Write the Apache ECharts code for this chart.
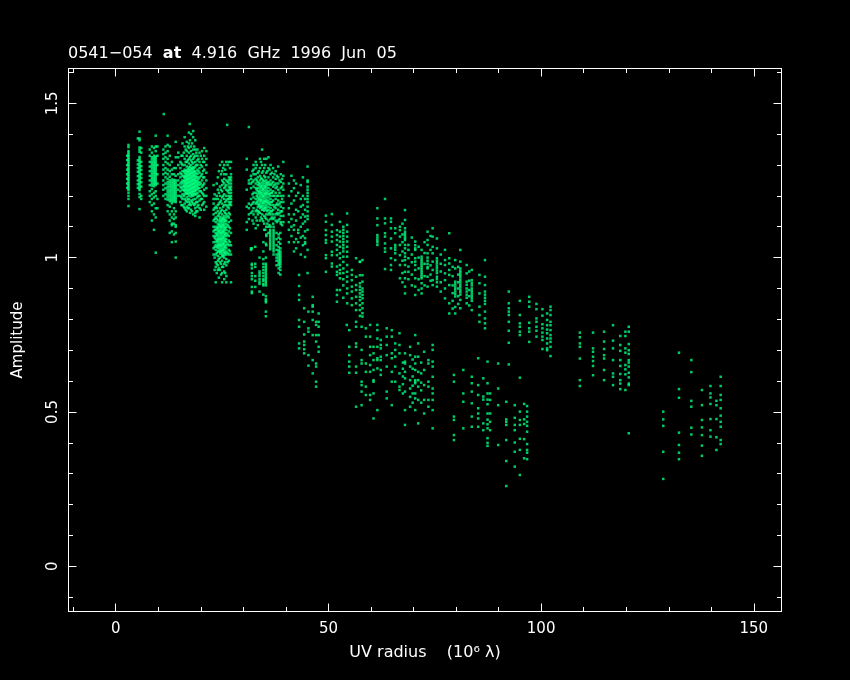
<!DOCTYPE html>
<html><head><meta charset="utf-8">
<style>html,body{margin:0;padding:0;background:#000}#c{width:850px;height:680px}</style>
<script src="https://cdn.jsdelivr.net/npm/echarts@6/dist/echarts.min.js"></script>
</head><body><div id="c"></div>
<script>
const titleText = '0541\u2212054  {b|at}  4.916  GHz  1996  Jun  05';
const xName = 'UV radius    (10\u2076 \u03bb)';
const yName = 'Amplitude';
const xMajor = [0, 50, 100, 150];
const xMinor = [-10, 10, 20, 30, 40, 60, 70, 80, 90, 110, 120, 130, 140];
const yMajor = [0, 0.5, 1, 1.5];
const yMinor = [-0.1, 0.1, 0.2, 0.3, 0.4, 0.6, 0.7, 0.8, 0.9, 1.1, 1.2, 1.3, 1.4, 1.6];

// each row: UV radius, then the amplitudes read in that vertical track
const strays = [[11.3,1.465],[17.4,1.433],[26.2,1.43],[31.3,1.423]];
const clusterA = [
 [3.0,1.365,1.358,1.345,1.34,1.334,1.329,1.323,1.318,1.312,1.307,1.301,1.296,1.29,1.285,1.279,1.274,1.268,1.263,1.257,1.252,1.246,1.241,1.235,1.23,1.224,1.219,1.21,1.2,1.19,1.167],
 [2.7,1.33,1.316,1.3,1.285,1.27,1.255,1.24,1.226]];
const clusterB = [
 [5.6,1.408,1.386,1.38,1.357,1.35,1.343,1.326,1.32,1.314,1.308,1.302,1.296,1.29,1.284,1.278,1.272,1.266,1.26,1.254,1.248,1.242,1.236,1.23,1.224,1.219,1.206,1.196,1.157],
 [5.2,1.386,1.315,1.302,1.29,1.278,1.264,1.25,1.238,1.226],
 [6.0,1.355,1.34,1.31,1.296,1.284,1.27,1.258,1.244,1.23,1.2,1.19]];
const clusterC = [
 [8.0,1.35,1.33,1.31,1.295,1.28,1.265,1.25,1.235,1.215,1.2,1.18],
 [8.5,1.36,1.34,1.325,1.318,1.31,1.303,1.296,1.289,1.282,1.275,1.268,1.261,1.254,1.247,1.24,1.233,1.222,1.205,1.19,1.17,1.15,1.12],
 [9.0,1.355,1.33,1.322,1.315,1.308,1.301,1.294,1.287,1.28,1.273,1.266,1.259,1.252,1.245,1.238,1.231,1.21,1.195,1.175,1.14,1.09],
 [9.4,1.395,1.36,1.345,1.327,1.32,1.312,1.305,1.298,1.291,1.284,1.277,1.27,1.263,1.256,1.249,1.242,1.235,1.215,1.2,1.16,1.13,1.016],
 [9.8,1.36,1.33,1.3,1.27,1.24,1.19,1.16]];
const clusterD = [
 [11.2,1.35,1.335,1.32,1.3,1.285,1.27,1.25,1.235,1.22,1.2],
 [11.7,1.36,1.34,1.325,1.31,1.29,1.275,1.26,1.24,1.225,1.205,1.19],
 [12.2,1.395,1.365,1.345,1.32,1.305,1.285,1.27,1.255,1.245,1.237,1.228,1.22,1.212,1.204,1.196,1.188,1.17,1.15],
 [12.7,1.36,1.33,1.3,1.28,1.262,1.25,1.243,1.235,1.228,1.22,1.213,1.205,1.198,1.19,1.183,1.165,1.14,1.12,1.08],
 [13.2,1.31,1.285,1.27,1.253,1.246,1.239,1.232,1.225,1.218,1.211,1.204,1.197,1.19,1.183,1.176,1.15,1.13,1.11,1.105,1.085,1.05],
 [13.7,1.29,1.27,1.252,1.245,1.238,1.231,1.224,1.217,1.21,1.203,1.196,1.189,1.182,1.16,1.14,1.125,1.11,1.075],
 [14.1,1.375,1.325,1.29,1.265,1.25,1.243,1.236,1.229,1.222,1.215,1.208,1.201,1.194,1.187,1.18,1.15,1.13,1.105,1.1,1.08,1.052,1.0]];
const clusterE = [
 [14.7,1.34,1.325,1.3,1.27,1.25,1.235,1.22,1.2],
 [15.2,1.31,1.29,1.275,1.26,1.24,1.23,1.215,1.2,1.18],
 [15.7,1.37,1.33,1.3,1.28,1.265,1.25,1.24,1.23,1.22,1.205,1.19,1.17],
 [16.2,1.39,1.36,1.32,1.3,1.285,1.275,1.265,1.258,1.25,1.243,1.236,1.229,1.222,1.215,1.205,1.19,1.175,1.16],
 [16.7,1.375,1.345,1.33,1.31,1.295,1.283,1.276,1.269,1.262,1.255,1.248,1.241,1.234,1.227,1.22,1.213,1.206,1.195,1.18,1.165,1.15],
 [17.2,1.405,1.37,1.355,1.34,1.32,1.305,1.292,1.285,1.278,1.271,1.264,1.257,1.25,1.243,1.236,1.229,1.222,1.215,1.208,1.2,1.19,1.18,1.17,1.16],
 [17.7,1.4,1.36,1.345,1.33,1.315,1.3,1.29,1.283,1.276,1.269,1.262,1.255,1.248,1.241,1.234,1.227,1.22,1.213,1.206,1.198,1.185,1.17,1.155],
 [18.2,1.41,1.39,1.35,1.335,1.32,1.305,1.293,1.286,1.279,1.272,1.265,1.258,1.251,1.244,1.237,1.23,1.223,1.216,1.209,1.2,1.188,1.175,1.14],
 [18.7,1.38,1.35,1.33,1.31,1.295,1.28,1.27,1.263,1.256,1.249,1.242,1.235,1.228,1.221,1.214,1.205,1.19,1.175,1.16,1.145,1.135],
 [19.2,1.35,1.33,1.315,1.3,1.285,1.27,1.26,1.25,1.243,1.236,1.229,1.222,1.21,1.195,1.18,1.165,1.15],
 [19.7,1.34,1.31,1.29,1.275,1.26,1.245,1.235,1.225,1.215,1.2,1.185,1.16,1.13],
 [20.3,1.345,1.32,1.295,1.27,1.25,1.23,1.21,1.19,1.17],
 [20.8,1.355,1.33,1.31,1.285,1.26,1.24,1.22,1.2,1.18,1.155],
 [21.3,1.345,1.32,1.3,1.275,1.25,1.225,1.2,1.165]];
const clusterE2 = [
 [15.45,1.33,1.305,1.27,1.245,1.225,1.195,1.17],
 [16.0,1.34,1.28,1.262,1.247,1.232,1.218,1.2,1.165],
 [16.45,1.35,1.31,1.28,1.27,1.26,1.25,1.24,1.23,1.22,1.21,1.185,1.155],
 [16.95,1.36,1.315,1.287,1.278,1.266,1.254,1.243,1.231,1.218,1.207,1.188,1.16],
 [17.45,1.38,1.325,1.295,1.282,1.27,1.258,1.246,1.234,1.222,1.21,1.175,1.145],
 [17.95,1.37,1.31,1.288,1.275,1.263,1.25,1.238,1.226,1.214,1.203,1.18,1.15],
 [18.45,1.36,1.325,1.29,1.278,1.266,1.253,1.241,1.228,1.216,1.205,1.17],
 [18.95,1.34,1.3,1.275,1.26,1.247,1.233,1.22,1.205,1.18,1.15],
 [19.45,1.32,1.28,1.255,1.24,1.225,1.2,1.17],
 [20.0,1.33,1.3,1.265,1.24,1.215,1.19,1.155],
 [20.55,1.31,1.28,1.26,1.235,1.205,1.175]];
const clusterF = [
 [23.0,1.235,1.19,1.175,1.155,1.14,1.12,1.1,1.085,1.07,1.05,1.03,1.01],
 [23.5,1.19,1.165,1.145,1.13,1.115,1.1,1.09,1.08,1.07,1.06,1.05,1.04,1.025,1.01,0.985,0.97,0.92],
 [24.0,1.26,1.22,1.19,1.17,1.15,1.135,1.12,1.11,1.1,1.093,1.086,1.079,1.072,1.065,1.058,1.051,1.044,1.037,1.03,1.02,1.005,0.99,0.975,0.96],
 [24.5,1.3,1.23,1.2,1.18,1.16,1.145,1.132,1.125,1.118,1.111,1.104,1.097,1.09,1.083,1.076,1.069,1.062,1.055,1.048,1.041,1.034,1.027,1.02,1.013,1.0,0.985,0.96],
 [25.0,1.31,1.28,1.25,1.235,1.215,1.195,1.175,1.155,1.14,1.13,1.123,1.116,1.109,1.102,1.095,1.088,1.081,1.074,1.067,1.06,1.053,1.046,1.039,1.032,1.025,1.018,1.011,1.004,0.99,0.97,0.95,0.92],
 [25.5,1.3,1.27,1.255,1.24,1.225,1.205,1.19,1.17,1.15,1.135,1.128,1.121,1.114,1.107,1.1,1.093,1.086,1.079,1.072,1.065,1.058,1.051,1.044,1.037,1.03,1.023,1.016,1.009,1.0,0.98,0.955,0.93],
 [26.0,1.31,1.27,1.25,1.235,1.22,1.2,1.185,1.17,1.155,1.14,1.13,1.12,1.11,1.1,1.09,1.08,1.07,1.06,1.05,1.04,1.03,1.02,1.01,0.995,0.975,0.94,0.92],
 [26.6,1.31,1.26,1.25,1.24,1.23,1.22,1.21,1.2,1.19,1.18,1.17,1.16,1.145,1.13,1.115,1.1,1.085,1.07,1.055,1.04,1.025,1.01,0.99],
 [27.1,1.31,1.27,1.26,1.25,1.24,1.23,1.22,1.21,1.2,1.19,1.18,1.17,1.12,1.08,1.04,1.01,0.92]];
const clusterF2 = [
 [23.25,1.205,1.16,1.125,1.09,1.065,1.035,1.0,0.96],
 [23.75,1.24,1.2,1.16,1.125,1.095,1.075,1.055,1.035,1.015,0.98,0.95],
 [24.25,1.28,1.21,1.175,1.14,1.105,1.085,1.06,1.04,1.02,0.995,0.965,0.935],
 [24.75,1.27,1.22,1.185,1.15,1.12,1.1,1.08,1.06,1.04,1.02,0.98,0.945],
 [25.25,1.29,1.245,1.2,1.165,1.125,1.105,1.085,1.065,1.045,1.025,1.005,0.97],
 [25.75,1.285,1.23,1.18,1.145,1.12,1.095,1.075,1.055,1.035,1.015,0.985,0.95],
 [26.3,1.3,1.245,1.215,1.19,1.165,1.135,1.105,1.075,1.045,1.015,0.985],
 [26.85,1.29,1.255,1.225,1.195,1.175,1.14,1.095,1.05,1.02]];
const clusterG = [
 [30.8,1.32,1.285,1.22,1.165,1.115,1.09],
 [31.3,1.25,1.24,1.175,1.16,1.14,1.125],
 [31.8,1.265,1.255,1.24,1.225,1.19,1.17,1.145,1.03,1.025],
 [32.4,1.3,1.285,1.27,1.25,1.23,1.21,1.195,1.18,1.16,1.14,1.11],
 [32.9,1.31,1.29,1.27,1.255,1.24,1.225,1.21,1.19,1.175,1.15,1.13,1.095],
 [33.4,1.275,1.26,1.245,1.235,1.225,1.215,1.205,1.195,1.185,1.175,1.165,1.15,1.14,1.105],
 [33.9,1.32,1.29,1.265,1.25,1.24,1.232,1.224,1.216,1.208,1.2,1.192,1.184,1.176,1.168,1.16,1.145,1.12],
 [34.4,1.35,1.3,1.275,1.255,1.243,1.235,1.227,1.219,1.211,1.203,1.195,1.187,1.179,1.171,1.163,1.155,1.14,1.125],
 [34.9,1.32,1.29,1.265,1.248,1.24,1.232,1.224,1.216,1.208,1.2,1.192,1.184,1.176,1.168,1.16,1.152,1.135,1.11,1.09],
 [35.4,1.32,1.275,1.25,1.243,1.235,1.227,1.219,1.211,1.203,1.195,1.187,1.179,1.171,1.163,1.155,1.14,1.125,1.1,1.075,1.07,1.04],
 [35.9,1.325,1.29,1.26,1.245,1.235,1.225,1.215,1.205,1.195,1.185,1.175,1.165,1.155,1.14,1.12,1.1,1.08],
 [36.4,1.3,1.27,1.25,1.235,1.22,1.21,1.2,1.19,1.18,1.17,1.16,1.15,1.14,1.125,1.1],
 [37.0,1.29,1.26,1.245,1.23,1.215,1.2,1.185,1.17,1.155,1.14,1.125,1.11],
 [37.6,1.28,1.255,1.24,1.225,1.21,1.19,1.17,1.16,1.14,1.12],
 [38.2,1.295,1.26,1.24,1.22,1.2,1.185,1.17,1.155,1.14,1.12],
 [38.8,1.27,1.245,1.225,1.2,1.18,1.165,1.15,1.135,1.115,1.11],
 [39.4,1.31,1.265,1.24,1.22,1.2,1.18,1.16,1.135,1.115]];
const clusterG2 = [
 [32.15,1.28,1.245,1.205,1.175,1.15,1.12],
 [33.15,1.3,1.25,1.22,1.2,1.18,1.155,1.12],
 [33.65,1.28,1.24,1.212,1.19,1.17,1.148],
 [34.15,1.31,1.258,1.23,1.208,1.186,1.165,1.13],
 [34.65,1.28,1.25,1.222,1.2,1.178,1.156,1.118],
 [35.15,1.3,1.26,1.23,1.207,1.183,1.16,1.13,1.09],
 [35.65,1.28,1.24,1.21,1.18,1.15,1.11],
 [36.15,1.285,1.24,1.205,1.175,1.145,1.105],
 [36.7,1.275,1.24,1.21,1.18,1.15,1.13],
 [37.3,1.27,1.235,1.2,1.165,1.13],
 [37.9,1.265,1.23,1.2,1.175,1.145,1.115],
 [38.5,1.25,1.21,1.175,1.145,1.125],
 [39.1,1.255,1.23,1.19,1.15,1.105]];
const clusterH = [
 [36.3,1.09,1.083,1.076,1.069,1.062,1.055,1.048,1.041,1.034,1.027],
 [37.1,1.1,1.09,1.083,1.076,1.069,1.062,1.055,1.048,1.041,1.034,1.027,1.02,1.01],
 [37.8,1.08,1.06,1.04,1.025,1.01,1.0,0.99,0.975],
 [38.3,1.075,1.065,1.05,1.035,1.025,1.018,1.011,1.004,0.997,0.99,0.983,0.976,0.965,0.95],
 [38.7,1.08,1.06,1.045,1.03,1.02,1.013,1.006,0.999,0.992,0.985,0.978,0.97,0.96,0.945]];
const clusterI = [
 [32.0,0.98,0.975,0.965,0.95,0.94,0.93,0.905,0.89,0.885,1.03],
 [32.8,0.98,0.97,0.94,0.925,0.905,1.035],
 [33.8,0.955,0.948,0.94,0.93,0.922,0.915,1.0,0.89],
 [34.7,1.02,0.995,0.98,0.97,0.96,0.95,0.94,0.93,0.925,0.915,0.91,1.05,0.88],
 [35.3,0.98,0.973,0.966,0.959,0.952,0.945,0.938,0.931,0.924,0.917,0.91,0.875,0.865,0.855,0.825,0.81,0.86,1.0,1.045]];
const clusterJ = [
 [40.7,1.24,1.2,1.16,1.14,1.115,1.09,1.05],
 [41.3,1.265,1.215,1.175,1.125,1.1,1.07],
 [41.9,1.25,1.225,1.185,1.14,1.105,1.09,1.02,1.05],
 [42.4,1.24,1.2,1.155,1.12,1.06,1.03],
 [42.9,1.21,1.15,1.08,1.05,1.09],
 [43.5,1.235,1.19,1.165,1.13,1.1,1.065,1.01],
 [44.0,1.26,1.2,1.17,1.14,1.11,1.07,1.04],
 [44.5,1.19,1.155,1.133,1.117,1.085,1.063,1.002,1.05,1.045],
 [45.1,1.295,1.25,1.245,1.23,1.22,1.21,1.2,1.19,1.18,1.165,1.15,1.135,1.125,1.09,1.025,0.95]];
const clusterL = [
 [43.1,0.944,0.908,0.879,0.863,0.798,0.776,0.722,0.706],
 [44.3,0.836,0.792,0.751,0.728,0.717,0.703,0.69],
 [45.3,0.825,0.771,0.76,0.684,0.65],
 [46.3,0.873,0.846,0.841,0.825,0.798,0.749,0.668,0.625],
 [47.1,0.792,0.782,0.749,0.728,0.657,0.647,0.598,0.582],
 [47.7,0.819,0.792,0.776,0.749,0.711,0.695]];
const clusterM = [
 [49.4,1.136,1.116,1.089,1.073,1.057,1.048,1.008,0.998,0.954],
 [50.8,1.141,1.106,1.084,1.068,1.052,1.019,1.008,0.981,0.971],
 [52.0,1.089,1.073,1.057,1.041,1.025,1.008,0.971,0.954,0.944,0.895,0.879,0.857],
 [52.7,1.116,1.084,1.068,1.052,1.035,1.014,0.998,0.976,0.96,0.949,0.933,0.895],
 [53.5,1.1,1.09,1.08,1.07,1.06,1.05,1.04,1.03,1.02,1.003,0.986,0.965,0.95,0.93,0.91,0.87],
 [54.4,1.143,1.106,1.084,1.068,1.052,1.035,1.019,1.003,0.976,0.954,0.938,0.922,0.9,0.884,0.852],
 [55.5,0.96,0.944,0.927,0.906,0.89,0.868,0.846],
 [56.5,0.998,0.938,0.911,0.895,0.873,0.852,0.83],
 [57.4,0.986,0.987,0.943,0.917,0.906,0.895,0.884,0.873,0.862,0.846,0.83,0.811],
 [58.0,0.992,0.943,0.922,0.9,0.89,0.879,0.868,0.852,0.836,0.82,0.809]];
const clusterN = [
 [61.5,1.16,1.127,1.105,1.073,1.065,1.057,1.05,1.041],
 [63.3,1.19,1.127,1.111,1.079,1.068,1.046,1.03,1.019,0.963],
 [64.7,1.127,1.116,1.095,1.062,1.03,0.998,0.976,0.96],
 [65.7,1.095,1.079,1.041,1.033,1.025,1.014,0.992],
 [66.8,1.1,1.089,1.068,1.041,1.008,0.976,0.933],
 [67.4,1.11,1.075,1.05,1.02,0.99,0.95,0.92],
 [68.0,1.154,1.122,1.095,1.084,1.077,1.07,1.063,1.057,1.041,1.03,1.014,1.003,0.992,0.976,0.954,0.933,0.906,0.884],
 [68.8,1.041,1.025,0.998,0.971,0.954,0.93],
 [69.6,1.065,1.01,0.985,0.945,0.91],
 [70.4,1.052,1.04,1.03,1.025,0.998,0.987,0.976,0.96,0.933,0.906,0.879],
 [71.2,1.035,1.0,0.965,0.93,0.895],
 [71.9,1.025,1.003,0.995,0.988,0.981,0.974,0.967,0.96,0.953,0.946,0.939,0.933,0.917,0.9,0.884],
 [72.6,1.05,1.015,0.98,0.94,0.91],
 [73.3,1.084,1.057,1.041,1.014,1.0,0.99,0.98,0.97,0.965,0.938,0.906],
 [74.0,1.07,1.025,0.975,0.945,0.925],
 [74.5,1.095,1.068,1.035,1.014,0.987,0.96,0.927,0.911],
 [75.5,1.062,1.03,0.998,0.99,0.982,0.974,0.966,0.958,0.95,0.938,0.93,0.92,0.906],
 [76.4,1.01,0.98,0.955,0.92,0.89],
 [77.4,1.025,0.992,0.976,0.949,0.927,0.9,0.868],
 [78.4,1.079,0.998,0.981,0.96,0.944,0.911,0.852,0.819],
 [79.2,0.97,0.94,0.91,0.885,0.86,0.835],
 [79.8,0.992,0.965,0.922,0.914,0.906,0.898,0.89,0.882,0.874,0.84,0.819],
 [80.5,0.97,0.945,0.92,0.9,0.875,0.85],
 [81.0,1.025,0.987,0.965,0.957,0.95,0.943,0.936,0.928,0.92,0.912,0.904,0.896,0.888,0.88,0.863,0.836],
 [82.5,0.976,0.949,0.922,0.912,0.9,0.89,0.88,0.87,0.852],
 [83.1,0.955,0.925,0.895,0.875,0.845],
 [83.7,0.96,0.927,0.918,0.91,0.9,0.892,0.884,0.876,0.868,0.86,0.83],
 [85.5,0.944,0.917,0.884,0.841,0.814,0.792],
 [86.8,0.992,0.938,0.911,0.89,0.88,0.87,0.86,0.85,0.825,0.803,0.787,0.771]];
const clusterO = [
 [54.3,0.782],[54.9,0.765,0.711,0.684,0.663,0.647,0.627],
 [56.5,0.792,0.776,0.722,0.711,0.647,0.627,0.517],
 [57.8,0.776,0.701,0.668,0.657,0.598,0.587,0.566,0.522],
 [58.8,0.771,0.744,0.657,0.63,0.582,0.555],
 [59.8,0.782,0.744,0.711,0.684,0.652,0.63,0.555,0.539],
 [60.6,0.711,0.69,0.668,0.636,0.603,0.598,0.56,0.479],
 [61.5,0.782,0.765,0.738,0.711,0.674,0.668,0.641,0.506],
 [62.3,0.733,0.717,0.706,0.679,0.668,0.636,0.62],
 [63.7,0.771,0.744,0.717,0.684,0.647,0.566,0.544],
 [64.9,0.765,0.744,0.69,0.674,0.63,0.598,0.522],
 [65.7,0.722,0.701,0.679,0.647,0.598],
 [66.7,0.755,0.717,0.69,0.625,0.582,0.571],
 [67.5,0.66,0.64,0.615,0.59,0.56],
 [68.0,0.69,0.663,0.657,0.63,0.609,0.566,0.506,0.458],
 [69.2,0.711,0.684,0.647,0.603,0.576,0.549,0.517],
 [69.8,0.67,0.64,0.615,0.585,0.56,0.53],
 [70.4,0.749,0.679,0.657,0.636,0.603,0.598,0.593,0.56,0.544,0.506],
 [71.1,0.722,0.679,0.63,0.603,0.582,0.539,0.463],
 [71.8,0.66,0.625,0.595,0.57,0.53],
 [72.5,0.695,0.636,0.587,0.539,0.495],
 [73.5,0.668,0.657,0.598,0.582,0.539,0.517],
 [74.5,0.717,0.701,0.663,0.647,0.614,0.576,0.56,0.539,0.506,0.447]];
const clusterP = [
 [79.5,0.62,0.598,0.485,0.474,0.425,0.409],
 [81.7,0.636,0.56,0.533,0.447],
 [83.7,0.614,0.593,0.566,0.528,0.485,0.452],
 [85.2,0.674,0.587,0.555,0.512,0.495,0.479,0.452],
 [86.4,0.609,0.55,0.54,0.463,0.441],
 [87.4,0.663,0.593,0.56,0.54,0.525,0.495,0.475,0.46,0.447,0.415,0.4,0.39],
 [88.0,0.56,0.539,0.495,0.468,0.441],
 [89.9,0.657,0.576,0.522,0.393]];
const clusterS = [
 [91.8,0.533,0.476,0.468,0.458,0.409,0.341,0.26],
 [92.4,0.89,0.852,0.836,0.825,0.814,0.792,0.763,0.724,0.654],
 [93.8,0.522,0.481,0.458,0.441,0.401,0.371,0.323],
 [95.0,0.86,0.814,0.787,0.776,0.76,0.749,0.611,0.501,0.474,0.458,0.413,0.377,0.296],
 [96.0,0.526,0.476,0.461,0.412,0.35],
 [96.7,0.519,0.501,0.485,0.468,0.455,0.436,0.396,0.377,0.368,0.347],
 [97.2,0.873,0.857,0.841,0.789,0.771,0.76,0.727],
 [98.9,0.85,0.833,0.803,0.792,0.776,0.763,0.744],
 [100.3,0.833,0.812,0.784,0.771,0.757,0.744,0.733,0.704],
 [101.4,0.819,0.798,0.781,0.767,0.755,0.738,0.722,0.706,0.7],
 [102.2,0.841,0.83,0.814,0.792,0.781,0.765,0.749,0.738,0.727,0.711,0.681]];
const clusterQ = [
 [109.1,0.757,0.742,0.722,0.711,0.673,0.603,0.584],
 [112.2,0.757,0.706,0.695,0.679,0.665,0.649,0.619],
 [114.8,0.76,0.728,0.704,0.684,0.673,0.636,0.603],
 [116.9,0.781,0.731,0.706,0.668,0.625,0.614,0.587],
 [118.6,0.746,0.717,0.698,0.668,0.649,0.623,0.603,0.592,0.574],
 [119.8,0.76,0.746,0.706,0.692,0.652,0.638,0.622,0.571],
 [120.6,0.776,0.76,0.72,0.7,0.688,0.668,0.66,0.647,0.627,0.612,0.592,0.587,0.431]];
const clusterR = [
 [128.7,0.501,0.476,0.455,0.371,0.283],
 [132.4,0.692,0.574,0.546,0.433,0.393,0.368,0.347],
 [135.3,0.668,0.629,0.536,0.517,0.449,0.427],
 [137.8,0.571,0.522,0.474,0.45,0.425,0.391,0.358],
 [139.8,0.584,0.56,0.547,0.526,0.477,0.441,0.42],
 [141.2,0.536,0.522,0.477,0.418,0.377],
 [142.2,0.614,0.584,0.555,0.539,0.512,0.488,0.468,0.452,0.409,0.396]];

const tracks = [strays, clusterA, clusterB, clusterC, clusterD, clusterE, clusterE2, clusterF, clusterF2, clusterG, clusterG2, clusterH, clusterI, clusterJ, clusterL, clusterM, clusterN, clusterO, clusterP, clusterS, clusterQ, clusterR];
const points = [];
tracks.forEach(cluster => cluster.forEach(row => row.slice(1).forEach(a => points.push([row[0], a]))));

const font = 'DejaVu Sans';
const white = '#ffffff';
const xRange = {min:-11.1, max:156.5};
const yRange = {min:-0.1464, max:1.6126};
function xa(pos, values, len, labels, name){
  return Object.assign({type:'value', position:pos, splitLine:{show:false}, minorTick:{show:false}, scale:true,
    axisLine:{show:true,onZero:false,lineStyle:{color:white,width:1}},
    axisTick:{show:true,inside:true,length:len,customValues:values,lineStyle:{color:white,width:1}},
    axisLabel:labels?{show:true,customValues:values,color:white,fontFamily:font,fontSize:15,margin:10,formatter:v=>String(v)}:{show:false},
    name:name||'', nameLocation:'middle', nameGap:33, nameTextStyle:{color:white,fontFamily:font,fontSize:16}}, xRange);
}
function ya(pos, values, len, labels, name){
  return Object.assign({type:'value', position:pos, splitLine:{show:false}, minorTick:{show:false}, scale:true,
    axisLine:{show:true,onZero:false,lineStyle:{color:white,width:1}},
    axisTick:{show:true,inside:true,length:len,customValues:values,lineStyle:{color:white,width:1}},
    axisLabel:labels?{show:true,customValues:values,rotate:90,color:white,fontFamily:font,fontSize:15,margin:8,formatter:v=>String(v)}:{show:false},
    name:name||'', nameLocation:'middle', nameGap:43, nameRotate:90, nameTextStyle:{color:white,fontFamily:font,fontSize:15}}, yRange);
}
const chart = echarts.init(document.getElementById('c'), null, {renderer:'canvas', width:850, height:680});
chart.setOption({
  animation:false, backgroundColor:'#000000',
  title:{left:63, top:41, text:titleText, textStyle:{color:white,fontFamily:font,fontSize:16,fontWeight:'normal',
    rich:{b:{color:white,fontFamily:font,fontSize:16,fontWeight:'bold'}}}},
  grid:{left:68.5, right:68.5, top:68.5, bottom:68.5, containLabel:false},
  xAxis:[xa('bottom',xMajor,8,true,xName), xa('bottom',xMinor,4.5,false), xa('top',xMajor,8,false), xa('top',xMinor,4.5,false)],
  yAxis:[ya('left',yMajor,8,true,yName), ya('left',yMinor,4.5,false), ya('right',yMajor,8,false), ya('right',yMinor,4.5,false)],
  series:[{type:'scatter', xAxisIndex:0, yAxisIndex:0, data:points, symbol:'rect', symbolSize:2.5, silent:true,
    itemStyle:{color:'#00ff7f'}}]
});
</script></body></html>
